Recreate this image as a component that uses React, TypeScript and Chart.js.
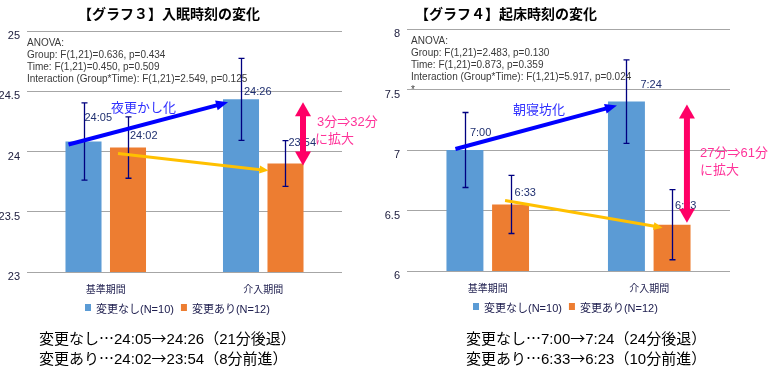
import React, { useEffect, useRef } from "react";
import { Chart, registerables } from "chart.js";

Chart.register(...registerables);

// ---------- data ----------
const categories = ["基準期間", "介入期間"];
const seriesNames = ["変更なし(N=10)", "変更あり(N=12)"];

// Graph 3: sleep onset (hours)
const onsetNoChange = [24.083, 24.433];
const onsetChanged = [24.033, 23.9];
const onsetNoChangeErr = [0.32, 0.34];
const onsetChangedErr = [0.255, 0.19];
const onsetNoChangeLabels = ["24:05", "24:26"];
const onsetChangedLabels = ["24:02", "23:54"];
const onsetAnova = [
  "ANOVA:",
  "Group: F(1,21)=0.636, p=0.434",
  "Time: F(1,21)=0.450, p=0.509",
  "Interaction (Group*Time): F(1,21)=2.549, p=0.125",
];

// Graph 4: wake time (hours)
const wakeNoChange = [7.0, 7.4];
const wakeChanged = [6.55, 6.383];
const wakeNoChangeErr = [0.31, 0.345];
const wakeChangedErr = [0.24, 0.29];
const wakeNoChangeLabels = ["7:00", "7:24"];
const wakeChangedLabels = ["6:33", "6:23"];
const wakeAnova = [
  "ANOVA:",
  "Group: F(1,21)=2.483, p=0.130",
  "Time: F(1,21)=0.873, p=0.359",
  "Interaction (Group*Time): F(1,21)=5.917, p=0.024",
  "*",
];

// summary lines: [group, from, to, change]
const summaryOnset = [
  ["変更なし", "24:05", "24:26", "21分後退"],
  ["変更あり", "24:02", "23:54", "8分前進"],
];
const summaryWake = [
  ["変更なし", "7:00", "7:24", "24分後退"],
  ["変更あり", "6:33", "6:23", "10分前進"],
];

const BLUE = "#5b9bd5";
const ORANGE = "#ed7d31";
const LATIN = "'Liberation Sans', 'Noto Sans CJK JP', sans-serif";
const CJK = "'Noto Sans CJK JP', sans-serif";

type Pt = { ds: number; i: number; dx: number; dy: number };

function drawArrow(
  ctx: CanvasRenderingContext2D,
  x1: number, y1: number, x2: number, y2: number,
  color: string, width: number, headLen: number, headW: number, both: boolean
) {
  const ang = Math.atan2(y2 - y1, x2 - x1);
  const cos = Math.cos(ang), sin = Math.sin(ang);
  ctx.save();
  ctx.strokeStyle = color;
  ctx.fillStyle = color;
  ctx.lineWidth = width;
  const sx = both ? x1 + cos * headLen * 0.9 : x1;
  const sy = both ? y1 + sin * headLen * 0.9 : y1;
  const ex = x2 - cos * headLen * 0.9;
  const ey = y2 - sin * headLen * 0.9;
  ctx.beginPath();
  ctx.moveTo(sx, sy);
  ctx.lineTo(ex, ey);
  ctx.stroke();
  const head = (tx: number, ty: number, c: number, s: number) => {
    const bx = tx - c * headLen, by = ty - s * headLen;
    ctx.beginPath();
    ctx.moveTo(tx, ty);
    ctx.lineTo(bx - s * headW / 2, by + c * headW / 2);
    ctx.lineTo(bx + s * headW / 2, by - c * headW / 2);
    ctx.closePath();
    ctx.fill();
  };
  head(x2, y2, cos, sin);
  if (both) head(x1, y1, -cos, -sin);
  ctx.restore();
}

function makePlugin(cfg: any) {
  return {
    id: "annot",
    afterDatasetsDraw(chart: any) {
      const ctx: CanvasRenderingContext2D = chart.ctx;
      const y = chart.scales.y;
      const ca = chart.chartArea;
      const metas = [chart.getDatasetMeta(0), chart.getDatasetMeta(1)];
      const vals = [cfg.a, cfg.b];
      const errs = [cfg.aErr, cfg.bErr];
      const labs = [cfg.aLab, cfg.bLab];
      const pt = (p: Pt) => {
        const el = metas[p.ds].data[p.i];
        return [el.x + p.dx, y.getPixelForValue(vals[p.ds][p.i]) + p.dy];
      };
      ctx.save();
      // error bars
      ctx.strokeStyle = "#000080";
      ctx.lineWidth = 1.3;
      for (let d = 0; d < 2; d++) {
        metas[d].data.forEach((el: any, i: number) => {
          const v = vals[d][i], e = errs[d][i];
          const x = Math.round(el.x) + 0.5;
          const t = y.getPixelForValue(v + e), b = y.getPixelForValue(v - e);
          ctx.beginPath();
          ctx.moveTo(x, t); ctx.lineTo(x, b);
          ctx.moveTo(x - 3, t); ctx.lineTo(x + 3, t);
          ctx.moveTo(x - 3, b); ctx.lineTo(x + 3, b);
          ctx.stroke();
        });
      }
      // value labels
      ctx.font = `11px ${LATIN}`;
      ctx.fillStyle = "#203070";
      ctx.textAlign = "left";
      ctx.textBaseline = "middle";
      for (let d = 0; d < 2; d++) {
        metas[d].data.forEach((el: any, i: number) => {
          const off = cfg.labOff[d][i];
          ctx.fillText(labs[d][i], el.x + off[0], y.getPixelForValue(vals[d][i]) + off[1]);
        });
      }
      // ANOVA text
      ctx.font = `10px ${LATIN}`;
      ctx.fillStyle = "#3a3a3a";
      cfg.anova.forEach((s: string, k: number) => {
        ctx.fillText(s, cfg.anovaX, cfg.anovaY + k * 12.2);
      });
      // arrows
      const [bx1, by1] = pt(cfg.blueFrom), [bx2, by2] = pt(cfg.blueTo);
      drawArrow(ctx, bx1, by1, bx2, by2, "#0000ff", 4, 12, 10, false);
      const [yx1, yy1] = pt(cfg.yelFrom), [yx2, yy2] = pt(cfg.yelTo);
      drawArrow(ctx, yx1, yy1, yx2, yy2, "#ffc000", 3, 9, 8, false);
      const [px1, py1] = pt(cfg.pinkFrom), [, py2] = pt(cfg.pinkTo);
      drawArrow(ctx, px1, py1, px1, py2, "#ff0066", 6, 14, 16, true);
      // annotation texts
      ctx.font = `13px ${CJK}`;
      ctx.fillStyle = "#3030ff";
      ctx.fillText(cfg.blueText[0], cfg.blueText[1], cfg.blueText[2]);
      ctx.font = `13px ${LATIN}`;
      ctx.fillStyle = "#ff3399";
      cfg.pinkText.forEach((t: any) => ctx.fillText(t[0], t[1], t[2]));
      // title
      ctx.font = `bold 14px ${CJK}`;
      ctx.fillStyle = "#000";
      ctx.textAlign = "center";
      ctx.fillText(cfg.title, cfg.titleX, 14);
      // legend
      ctx.textAlign = "left";
      ctx.font = `11px ${LATIN}`;
      const lx = cfg.legendX;
      const ly = ca.bottom + 32;
      ctx.fillStyle = BLUE;
      ctx.fillRect(lx, ly, 6, 7);
      ctx.fillStyle = "#202050";
      ctx.fillText(seriesNames[0], lx + 11, ly + 6);
      const w0 = ctx.measureText(seriesNames[0]).width;
      const ox = lx + 11 + w0 + 7;
      ctx.fillStyle = ORANGE;
      ctx.fillRect(ox, ly, 6, 7);
      ctx.fillStyle = "#202050";
      ctx.fillText(seriesNames[1], ox + 11, ly + 6);
      ctx.restore();
    },
  };
}

function makeChart(canvas: HTMLCanvasElement, cfg: any) {
  return new Chart(canvas, {
    type: "bar",
    data: {
      labels: categories,
      datasets: [
        { label: seriesNames[0], data: cfg.a, backgroundColor: BLUE, categoryPercentage: 0.565, barPercentage: 0.81 },
        { label: seriesNames[1], data: cfg.b, backgroundColor: ORANGE, categoryPercentage: 0.565, barPercentage: 0.81 },
      ],
    },
    options: {
      responsive: false,
      animation: false,
      layout: { padding: { top: cfg.top, right: cfg.right, left: 0, bottom: 0 } },
      plugins: { legend: { display: false }, title: { display: false }, tooltip: { enabled: false } },
      scales: {
        x: {
          grid: { display: false },
          border: { display: false },
          ticks: { color: "#202050", font: { size: 10, family: CJK }, padding: 3 },
          afterFit: (s: any) => { s.height = cfg.xh; },
        },
        y: {
          min: cfg.min,
          max: cfg.max,
          ticks: {
            stepSize: 0.5,
            color: "#202040",
            font: { size: 11, family: LATIN },
            padding: 7,
            labelOffset: 5,
            callback: (v: any) => String(Math.round(v * 10) / 10),
          },
          grid: { color: "#a6a6a6", drawTicks: false },
          border: { display: false },
          afterFit: (s: any) => { s.width = 27; },
        },
      },
    },
    plugins: [makePlugin(cfg)],
  } as any);
}

const leftCfg = {
  a: onsetNoChange, b: onsetChanged, aErr: onsetNoChangeErr, bErr: onsetChangedErr,
  aLab: onsetNoChangeLabels, bLab: onsetChangedLabels,
  labOff: [[[1, -24], [3, -7]], [[2, -12], [3, -21]]],
  min: 23, max: 25, top: 31, right: 38, xh: 97,
  anova: onsetAnova, anovaX: 27, anovaY: 43,
  blueFrom: { ds: 0, i: 0, dx: -15, dy: 3 }, blueTo: { ds: 0, i: 1, dx: -13, dy: 3 },
  yelFrom: { ds: 1, i: 0, dx: -10, dy: 6 }, yelTo: { ds: 1, i: 1, dx: -17, dy: 7 },
  pinkFrom: { ds: 0, i: 1, dx: 62, dy: 3 }, pinkTo: { ds: 1, i: 1, dx: 18, dy: 2 },
  blueText: ["夜更かし化", 111, 107],
  pinkText: [["3分⇒32分", 317, 122], ["に拡大", 315, 139]],
  title: "【グラフ３】入眠時刻の変化", titleX: 169,
  legendX: 85,
};

const rightCfg = {
  a: wakeNoChange, b: wakeChanged, aErr: wakeNoChangeErr, bErr: wakeChangedErr,
  aLab: wakeNoChangeLabels, bLab: wakeChangedLabels,
  labOff: [[[5, -17], [14, -17]], [[4, -11], [3, -19]]],
  min: 6, max: 8, top: 29, right: 42, xh: 98,
  anova: wakeAnova, anovaX: 31, anovaY: 41,
  blueFrom: { ds: 0, i: 0, dx: -9.5, dy: -1 }, blueTo: { ds: 0, i: 1, dx: -9.5, dy: 4 },
  yelFrom: { ds: 1, i: 0, dx: -5.5, dy: -4 }, yelTo: { ds: 1, i: 1, dx: -9.5, dy: 3 },
  pinkFrom: { ds: 0, i: 1, dx: 60.5, dy: 3 }, pinkTo: { ds: 1, i: 1, dx: 15.5, dy: -2 },
  blueText: ["朝寝坊化", 133, 109],
  pinkText: [["27分⇒61分", 320, 153], ["に拡大", 320, 170]],
  title: "【グラフ４】起床時刻の変化", titleX: 126,
  legendX: 93,
};

function SummaryLine({ parts }: { parts: string[] }) {
  const cjk: React.CSSProperties = { fontFamily: CJK };
  return (
    <div>
      <span style={cjk}>{parts[0]}</span>
      <span style={cjk}>…</span>
      {parts[1]}
      <span style={cjk}>→</span>
      {parts[2]}
      <span style={cjk}>（</span>
      {parts[3]}
      <span style={cjk}>）</span>
    </div>
  );
}

export default function App() {
  const leftRef = useRef<HTMLCanvasElement>(null);
  const rightRef = useRef<HTMLCanvasElement>(null);
  useEffect(() => {
    document.body.style.margin = "0";
    const c1 = makeChart(leftRef.current!, leftCfg);
    const c2 = makeChart(rightRef.current!, rightCfg);
    return () => { c1.destroy(); c2.destroy(); };
  }, []);
  const textStyle: React.CSSProperties = {
    position: "absolute",
    fontFamily: LATIN,
    fontSize: 15,
    lineHeight: "19px",
    color: "#000",
    whiteSpace: "nowrap",
  };
  return (
    <div style={{ position: "absolute", left: 0, top: 0, width: 772, height: 369, background: "#fff", overflow: "hidden" }}>
      <canvas ref={leftRef} width={380} height={369} style={{ position: "absolute", left: 0, top: 0 }} />
      <canvas ref={rightRef} width={392} height={369} style={{ position: "absolute", left: 380, top: 0 }} />
      <div style={{ ...textStyle, left: 39, top: 328 }}>
        {summaryOnset.map((p) => <SummaryLine key={p[0]} parts={p} />)}
      </div>
      <div style={{ ...textStyle, left: 466, top: 328 }}>
        {summaryWake.map((p) => <SummaryLine key={p[0]} parts={p} />)}
      </div>
    </div>
  );
}
